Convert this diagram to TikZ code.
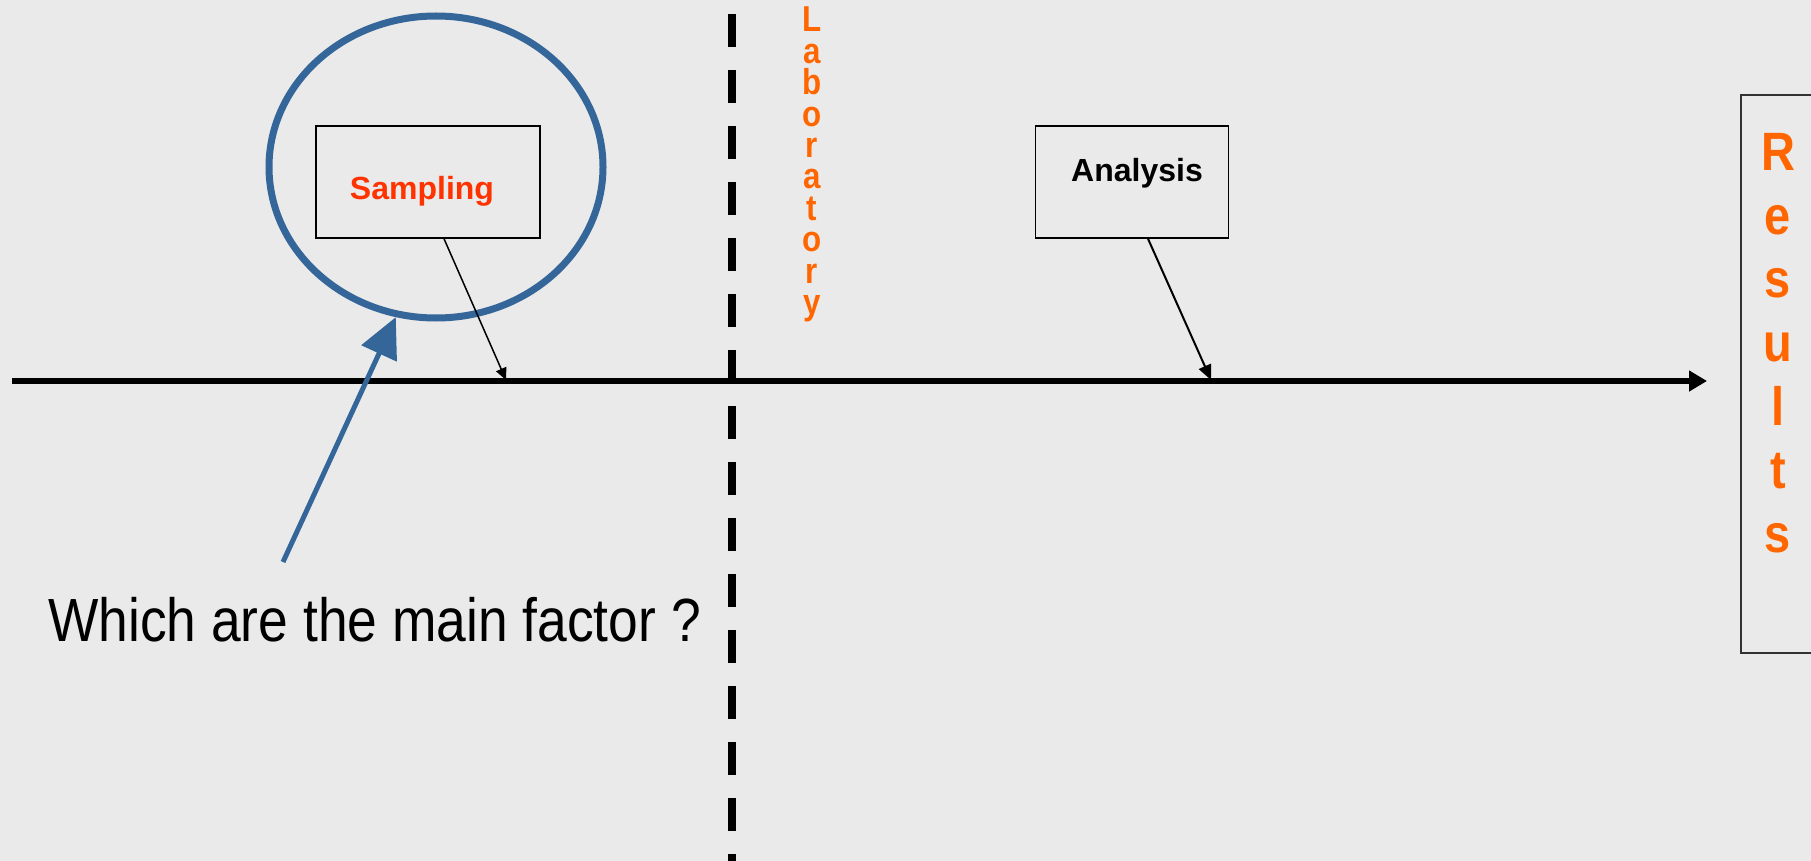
\documentclass[tikz,border=0pt]{standalone}
\usepackage{fontspec}
\setmainfont{Liberation Sans}
\newfontfamily\narrowfont[FakeStretch=0.875]{Liberation Sans}
\newfontfamily\tallfont[FakeStretch=0.87]{Liberation Sans}
\usetikzlibrary{arrows.meta,shapes.geometric}

\definecolor{bggray}{RGB}{234,234,234}
\definecolor{ringblue}{RGB}{52,102,153}
\definecolor{samplered}{RGB}{255,51,0}
\definecolor{laborange}{RGB}{255,102,0}

\begin{document}
\begin{tikzpicture}[x=1pt,y=-1pt,
  stepbox/.style={draw, line width=1.5pt, inner sep=0pt, font=\bfseries\fontsize{32}{32}\selectfont},
  column/.style={anchor=north, inner sep=0pt, align=center, text=laborange}]

\fill[bggray] (0,0) rectangle (1811,861);
\useasboundingbox (0,0) rectangle (1811,861);

\node (focus) at (436,167) [ellipse, draw=ringblue, line width=7pt, minimum width=334pt, minimum height=302pt, inner sep=0pt] {};
\node (sampling) at (428,182) [stepbox, text=samplered, minimum width=224pt, minimum height=112pt, text height=36pt, text depth=0pt] {Sampling\hspace*{12pt}};
\node (analysis) at (1132,182) [stepbox, minimum width=193pt, minimum height=112pt, text height=20pt, text depth=20pt] {\hspace*{10pt}Analysis};
\node (lab) at (812,7) [column, font=\tallfont\bfseries\fontsize{36}{31.4}\selectfont] {L\\a\\b\\o\\r\\a\\t\\o\\r\\y};
\node (results) at (1779,374) [draw=black!80, line width=1.5pt, minimum width=76pt, minimum height=558pt] {};
\node (resultstext) at (1778,133) [column, font=\tallfont\bfseries\fontsize{54}{63.7}\selectfont] {R\\e\\s\\u\\l\\t\\s};
\node (question) at (48,641) [anchor=base west, inner sep=0pt, font=\narrowfont\fontsize{61}{61}\selectfont] {Which are the main factor ?};

\coordinate (tlstart) at (12,381);
\coordinate (tlend) at (1707,381);
\coordinate (samptip) at (506,380);
\coordinate (anatip) at (1211,380);
\coordinate (labtop) at (732,14);
\coordinate (labbot) at (732,875);
\coordinate (askfrom) at (283,562);

\draw[line width=8pt, dash pattern=on 33pt off 23pt] (labtop) -- (labbot);
\draw[line width=6pt, -{Triangle[length=18pt,width=20pt]}] (tlstart) -- (tlend);

\draw[line width=1.5pt, -{Triangle[length=12pt,width=11pt]}] ([xshift=16pt]sampling.south) -- (samptip);
\draw[line width=2pt, -{Triangle[length=15pt,width=13pt]}] ([xshift=16pt]analysis.south) -- (anatip);

\draw[line width=5pt, ringblue, -{Triangle[length=40pt,width=38pt]}] (askfrom) -- (focus.255);
\end{tikzpicture}
\end{document}
